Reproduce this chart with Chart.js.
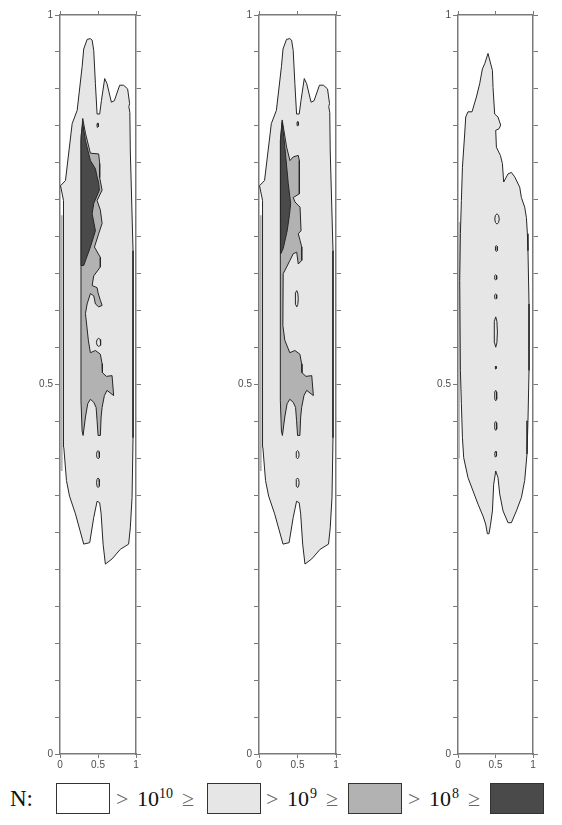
<!DOCTYPE html>
<html>
<head>
<meta charset="utf-8">
<script src="https://cdn.jsdelivr.net/npm/chart.js@4.4.0/dist/chart.umd.min.js"></script>
<style>
  body { margin: 0; background: #fff; width: 562px; height: 825px; position: relative; overflow: hidden; font-family: "Liberation Serif", serif; }
  canvas { position: absolute; top: 0; }
  .box { position: absolute; top: 783px; width: 54px; height: 31px; box-sizing: border-box; border: 1.5px solid #333; }
  .t { position: absolute; top: 788px; font-size: 22px; line-height: 22px; color: #111; white-space: nowrap; }
  .s { position: absolute; top: 787px; font-size: 14px; line-height: 14px; color: #111; }
  .r { color: #666; }
</style>
</head>
<body>
<canvas id="panel1" width="114" height="776" style="left:30px"></canvas>
<canvas id="panel2" width="115" height="776" style="left:229px"></canvas>
<canvas id="panel3" width="113" height="776" style="left:428px"></canvas>

<div class="t" style="left:10px;top:787px;font-size:23px;line-height:23px">N:</div>
<div class="box" style="left:56px;background:#fff"></div>
<div class="t r" style="left:116px">&gt;</div><div class="t" style="left:137px">10</div><div class="s" style="left:159px">10</div><div class="t r" style="left:182px">≥</div>
<div class="box" style="left:207px;background:#e6e6e6"></div>
<div class="t r" style="left:266px">&gt;</div><div class="t" style="left:287px">10</div><div class="s" style="left:310px">9</div><div class="t r" style="left:326px">≥</div>
<div class="box" style="left:348px;background:#b2b2b2"></div>
<div class="t r" style="left:408px">&gt;</div><div class="t" style="left:429px">10</div><div class="s" style="left:452px">8</div><div class="t r" style="left:468px">≥</div>
<div class="box" style="left:490px;background:#4a4a4a"></div>

<script>
// contour levels: light = 10^9..10^10, mid = 10^8..10^9, dark = < 10^8
const levelColors = ['#e6e6e6', '#b2b2b2', '#4a4a4a'];
const xTickValues = [0, 0.5, 1];
const xTickLabels = ['0', '0.5', '1'];
const yLabelValues = [0, 0.5, 1];
const yTickLabels = ['0', '0.5', '1'];

// outer contour, same in panel 1 and 2
const outerAB = [[0.007,0.769],[0.072,0.776],[0.160,0.853],[0.226,0.871],[0.291,0.930],[0.312,0.954],[0.357,0.967],[0.400,0.968],[0.423,0.966],[0.444,0.952],[0.466,0.907],[0.488,0.866],[0.522,0.866],[0.545,0.884],[0.588,0.914],[0.619,0.907],[0.676,0.882],[0.715,0.884],[0.785,0.905],[0.837,0.905],[0.890,0.900],[0.916,0.880],[0.906,0.876],[0.919,0.868],[0.925,0.816],[0.961,0.681],[0.961,0.428],[0.948,0.347],[0.925,0.306],[0.903,0.284],[0.794,0.277],[0.685,0.264],[0.597,0.257],[0.567,0.284],[0.541,0.325],[0.522,0.340],[0.488,0.342],[0.444,0.320],[0.391,0.286],[0.312,0.284],[0.203,0.325],[0.125,0.349],[0.085,0.370],[0.050,0.415],[0.042,0.461],[0.046,0.505],[0.050,0.641],[0.042,0.708],[0.050,0.749]];
const stripAB = [[0,0.383],[0.035,0.383],[0.035,0.729],[0,0.729]];

const mid1 = [[0.299,0.860],[0.335,0.840],[0.400,0.813],[0.509,0.812],[0.522,0.799],[0.522,0.780],[0.554,0.763],[0.488,0.749],[0.531,0.736],[0.554,0.718],[0.509,0.704],[0.453,0.686],[0.531,0.672],[0.531,0.659],[0.444,0.647],[0.423,0.634],[0.488,0.631],[0.501,0.624],[0.531,0.614],[0.554,0.607],[0.509,0.605],[0.466,0.609],[0.444,0.620],[0.400,0.623],[0.357,0.609],[0.335,0.596],[0.374,0.559],[0.400,0.543],[0.466,0.546],[0.531,0.541],[0.554,0.528],[0.558,0.516],[0.610,0.511],[0.685,0.512],[0.706,0.485],[0.619,0.492],[0.584,0.485],[0.554,0.469],[0.541,0.456],[0.531,0.431],[0.501,0.431],[0.488,0.451],[0.475,0.469],[0.444,0.476],[0.400,0.480],[0.365,0.474],[0.335,0.456],[0.304,0.431],[0.291,0.437],[0.276,0.478],[0.276,0.830]];
const dark1 = [[0.299,0.853],[0.335,0.830],[0.400,0.803],[0.466,0.792],[0.488,0.781],[0.509,0.773],[0.518,0.763],[0.444,0.745],[0.423,0.731],[0.466,0.708],[0.400,0.686],[0.312,0.661],[0.278,0.661],[0.278,0.837]];
// islands: centre x, centre y, width, height
const islands1 = [[0.496,0.851,0.02,0.006],[0.509,0.557,0.06,0.011],[0.501,0.405,0.04,0.011],[0.501,0.367,0.04,0.013]];

const mid2 = [[0.301,0.858],[0.359,0.821],[0.402,0.803],[0.445,0.808],[0.510,0.810],[0.524,0.803],[0.524,0.758],[0.445,0.753],[0.467,0.747],[0.533,0.740],[0.546,0.708],[0.510,0.704],[0.533,0.695],[0.555,0.686],[0.555,0.668],[0.510,0.663],[0.490,0.679],[0.445,0.677],[0.402,0.668],[0.359,0.659],[0.314,0.650],[0.310,0.580],[0.335,0.560],[0.400,0.543],[0.466,0.546],[0.531,0.541],[0.554,0.528],[0.558,0.516],[0.610,0.511],[0.685,0.512],[0.706,0.485],[0.619,0.492],[0.584,0.485],[0.554,0.469],[0.541,0.456],[0.531,0.431],[0.501,0.431],[0.488,0.451],[0.475,0.469],[0.444,0.476],[0.400,0.480],[0.365,0.474],[0.335,0.456],[0.304,0.431],[0.291,0.437],[0.277,0.478],[0.277,0.830]];
const dark2 = [[0.301,0.855],[0.336,0.821],[0.380,0.772],[0.411,0.745],[0.395,0.729],[0.366,0.708],[0.314,0.684],[0.284,0.677],[0.280,0.830]];
const islands2 = [[0.503,0.853,0.02,0.006],[0.490,0.616,0.04,0.022],[0.501,0.405,0.04,0.011],[0.501,0.367,0.04,0.013]];

const outer3 = [[0.400,0.948],[0.423,0.939],[0.459,0.925],[0.467,0.902],[0.489,0.866],[0.533,0.862],[0.569,0.851],[0.547,0.846],[0.503,0.844],[0.512,0.821],[0.565,0.810],[0.592,0.799],[0.609,0.774],[0.667,0.785],[0.712,0.787],[0.756,0.781],[0.823,0.767],[0.845,0.753],[0.889,0.740],[0.912,0.726],[0.925,0.704],[0.933,0.681],[0.947,0.609],[0.947,0.519],[0.933,0.451],[0.920,0.406],[0.889,0.370],[0.845,0.347],[0.779,0.329],[0.712,0.313],[0.667,0.313],[0.600,0.329],[0.556,0.352],[0.533,0.374],[0.503,0.383],[0.476,0.365],[0.459,0.329],[0.432,0.309],[0.413,0.298],[0.392,0.298],[0.369,0.311],[0.333,0.322],[0.267,0.338],[0.200,0.356],[0.133,0.374],[0.076,0.401],[0.059,0.428],[0.045,0.474],[0.032,0.519],[0.023,0.641],[0.032,0.704],[0.045,0.749],[0.059,0.794],[0.089,0.839],[0.103,0.862],[0.133,0.869],[0.187,0.869],[0.245,0.889],[0.289,0.907],[0.325,0.927],[0.356,0.934]];
const strip3 = [[0,0.40],[0.025,0.40],[0.025,0.72],[0,0.72]];
const islands3 = [[0.520,0.724,0.06,0.014],[0.512,0.684,0.03,0.008],[0.503,0.645,0.03,0.007],[0.503,0.619,0.03,0.007],[0.503,0.571,0.045,0.041],[0.503,0.523,0.015,0.004],[0.503,0.485,0.03,0.014],[0.503,0.444,0.03,0.012],[0.503,0.406,0.025,0.008]];

function oval(c) {
  const [cx, cy, w, h] = c;
  const a = w / 2, b = h / 2;
  return [[cx, cy + b], [cx + a * 0.7, cy + b * 0.7], [cx + a, cy], [cx + a * 0.7, cy - b * 0.7],
          [cx, cy - b], [cx - a * 0.7, cy - b * 0.7], [cx - a, cy], [cx - a * 0.7, cy + b * 0.7]];
}

function shape(points, color, order, outlined) {
  const pts = points.concat([points[0]]);
  return {
    data: pts.map(p => ({x: p[0], y: p[1]})),
    showLine: true,
    fill: 'shape',
    backgroundColor: color,
    borderColor: outlined ? '#262626' : 'rgba(0,0,0,0)',
    borderWidth: outlined ? 1 : 0,
    pointRadius: 0,
    tension: 0,
    order: order
  };
}

const frame = {display: true, color: '#7a7a7a', width: 1.5};
const tickFont = {family: 'Liberation Sans', size: 10};
function grid(len) {
  return {drawOnChartArea: false, drawTicks: true, tickLength: len, color: '#7a7a7a', lineWidth: 1};
}
function labelFor(values, labels, v) {
  const i = values.findIndex(t => Math.abs(t - v) < 1e-6);
  return i >= 0 ? labels[i] : '';
}

function panel(id, layers) {
  new Chart(document.getElementById(id), {
    type: 'scatter',
    data: {datasets: layers},
    options: {
      responsive: false,
      animation: false,
      devicePixelRatio: 1,
      events: [],
      layout: {padding: {top: 7, left: 0, right: 0, bottom: 0}},
      plugins: {legend: {display: false}, tooltip: {enabled: false}},
      scales: {
        x: {
          type: 'linear', position: 'bottom', min: 0, max: 1,
          afterBuildTicks: s => { s.ticks = xTickValues.map(v => ({value: v})); },
          ticks: {color: '#4d4d4d', font: tickFont, padding: 1, maxRotation: 0, autoSkip: false,
                  callback: v => labelFor(xTickValues, xTickLabels, v)},
          grid: grid(4), border: frame,
          afterFit: s => { s.height = 22; }
        },
        xTop: {
          type: 'linear', position: 'top', min: 0, max: 1,
          afterBuildTicks: s => { s.ticks = xTickValues.map(v => ({value: v})); },
          ticks: {callback: () => ''},
          grid: grid(4), border: frame,
          afterFit: s => { s.height = 8; }
        },
        y: {
          type: 'linear', position: 'left', min: 0, max: 1,
          ticks: {
            stepSize: 0.05, maxTicksLimit: 30, autoSkip: false, color: '#4d4d4d', font: tickFont, padding: 2,
            callback: v => labelFor(yLabelValues, yTickLabels, v)
          },
          grid: grid(5), border: frame,
          afterFit: s => { s.width = 30; }
        },
        yRight: {
          type: 'linear', position: 'right', min: 0, max: 1,
          ticks: {stepSize: 0.05, maxTicksLimit: 30, autoSkip: false, callback: () => ''},
          grid: grid(5), border: frame,
          afterFit: s => { s.width = 8; }
        }
      }
    }
  });
}

function layersFor(strip, outer, mid, dark, islands) {
  const ds = [shape(strip, levelColors[1], 6, false), shape(outer, levelColors[0], 5, true)];
  if (mid) ds.push(shape(mid, levelColors[1], 4, true));
  if (dark) ds.push(shape(dark, levelColors[2], 3, true));
  islands.forEach(c => ds.push(shape(oval(c), levelColors[0], 2, true)));
  return ds;
}

panel('panel1', layersFor(stripAB, outerAB, mid1, dark1, islands1));
panel('panel2', layersFor(stripAB, outerAB, mid2, dark2, islands2));
panel('panel3', layersFor(strip3, outer3, null, null, islands3));
</script>
</body>
</html>
